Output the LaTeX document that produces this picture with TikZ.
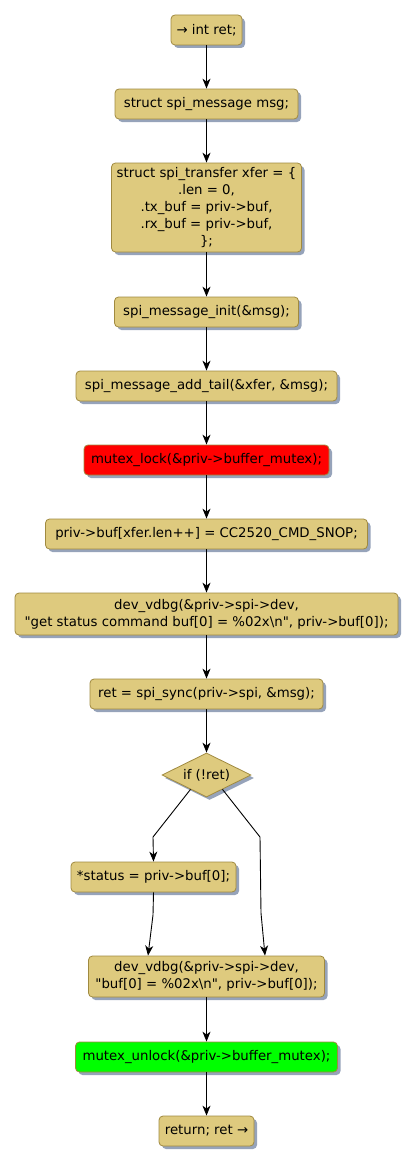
\documentclass[tikz,border=0pt]{standalone}
\usepackage{fontspec}
\setmainfont{DejaVu Sans}[Ligatures=TeXOff]
\usetikzlibrary{arrows.meta,shapes.geometric,shadows}
\definecolor{actfill}{RGB}{222,202,126}
\definecolor{actborder}{RGB}{160,138,64}
\definecolor{shadowc}{RGB}{150,163,186}
\definecolor{lockred}{RGB}{255,0,0}
\definecolor{unlockgreen}{RGB}{0,255,0}
\tikzset{
  base/.style={draw=actborder, fill=actfill, line width=0.8pt, inner sep=0pt, align=center,
    font=\fontsize{13.3}{17}\selectfont,
    drop shadow={shadow xshift=3pt, shadow yshift=-3pt, fill=shadowc, opacity=1}},
  act/.style={base, rounded corners=4pt},
  dia/.style={base, shape=diamond, shape aspect=2},
  flow/.style={-{Stealth[length=10pt,width=8pt,inset=3pt]}, line width=0.9pt},
}
\begin{document}
\begin{tikzpicture}[x=1pt,y=-1pt]
\useasboundingbox (0,0) rectangle (416,1164);
\node[act, minimum width=71pt, minimum height=30pt] (n1) at (206.5,30) {→ int ret;};
\node[act, minimum width=183pt, minimum height=30pt] (n2) at (206.5,104) {struct spi\_message msg;};
\node[act, minimum width=190pt, minimum height=89pt] (n3) at (206.5,207.5) {struct spi\_transfer xfer = \{\\ .len = 0,\\ .tx\_buf = priv->buf,\\ .rx\_buf = priv->buf,\\ \};};
\node[act, minimum width=184pt, minimum height=30pt] (n4) at (206.5,312) {spi\_message\_init(\&msg);};
\node[act, minimum width=261pt, minimum height=30pt] (n5) at (206.5,386) {spi\_message\_add\_tail(\&xfer, \&msg);};
\node[act, fill=lockred, minimum width=245pt, minimum height=30pt] (n6) at (206.5,460) {mutex\_lock(\&priv->buffer\_mutex);};
\node[act, minimum width=322pt, minimum height=30pt] (n7) at (206.5,534) {priv->buf[xfer.len++] = CC2520\_CMD\_SNOP;};
\node[act, minimum width=383pt, minimum height=42pt] (n8) at (206.5,614) {dev\_vdbg(\&priv->spi->dev,\\ "get status command buf[0] = \%02x\textbackslash n", priv->buf[0]);};
\node[act, minimum width=233pt, minimum height=30pt] (n9) at (206.5,694) {ret = spi\_sync(priv->spi, \&msg);};
\node[dia, minimum width=89pt, minimum height=44pt] (n10) at (206.5,775) {if (!ret)};
\node[act, minimum width=165pt, minimum height=30pt] (n11) at (153.5,877) {*status = priv->buf[0];};
\node[act, minimum width=236pt, minimum height=41pt] (n12) at (206.5,976.5) {dev\_vdbg(\&priv->spi->dev,\\ "buf[0] = \%02x\textbackslash n", priv->buf[0]);};
\node[act, fill=unlockgreen, minimum width=262pt, minimum height=30pt] (n13) at (206.5,1057) {mutex\_unlock(\&priv->buffer\_mutex);};
\node[act, minimum width=95pt, minimum height=30pt] (n14) at (206.5,1131) {return; ret →};
\coordinate (l1) at (153,837);
\coordinate (l2) at (153,915);
\coordinate (r1) at (260,837);
\coordinate (r2) at (261,913);
\draw[flow] (n1) -- (n2);
\draw[flow] (n2) -- (n3);
\draw[flow] (n3) -- (n4);
\draw[flow] (n4) -- (n5);
\draw[flow] (n5) -- (n6);
\draw[flow] (n6) -- (n7);
\draw[flow] (n7) -- (n8);
\draw[flow] (n8) -- (n9);
\draw[flow] (n9) -- (n10);
\draw[flow] (n10.222) -- (l1) -- (n11.north);
\draw[flow] (n10.318) -- (r1) -- (r2) -- ([xshift=58.5pt]n12.north);
\draw[flow] (n11.south) -- (l2) -- ([xshift=-58.5pt]n12.north);
\draw[flow] (n12) -- (n13);
\draw[flow] (n13) -- (n14);
\end{tikzpicture}
\end{document}
